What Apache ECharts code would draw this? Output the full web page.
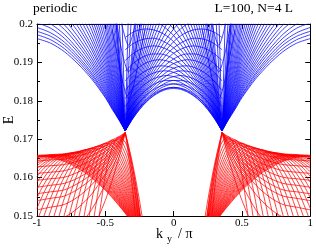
<!DOCTYPE html>
<html>
<head>
<meta charset="utf-8">
<script src="https://cdn.jsdelivr.net/npm/echarts@6/dist/echarts.min.js"></script>
<style>
html,body{margin:0;padding:0;background:#fff;}
#chart{width:316px;height:250px;}
</style>
</head>
<body>
<div id="chart"></div>
<script>
// ---------------- data ----------------
const xTicks = [-1, -0.5, 0, 0.5, 1];
const yTicks = [0.15, 0.16, 0.17, 0.18, 0.19, 0.2];

// upper band (blue), outer part: from k=-1 to the left touching point
const kBlueOuter = [-1, -0.9, -0.8, -0.7, -0.6, -0.5, -0.45, -0.4, -0.354];
const kBlueOuterMirror = [1, 0.9, 0.8, 0.7, 0.6, 0.5, 0.45, 0.4, 0.354];
const blueOuterEnvelope = [0.1962, 0.1950, 0.1928, 0.1896, 0.1857, 0.1808, 0.1778, 0.1750, 0.1722];
const blueOuterFan = [
  [0.1972, 0.1959, 0.1936, 0.1903, 0.1862, 0.1811, 0.1780, 0.1751, 0.1722],
  [0.1981, 0.1968, 0.1945, 0.1910, 0.1868, 0.1815, 0.1783, 0.1752, 0.1722],
  [0.1991, 0.1977, 0.1953, 0.1917, 0.1873, 0.1818, 0.1785, 0.1753, 0.1722],
  [0.2003, 0.1989, 0.1963, 0.1926, 0.1880, 0.1823, 0.1788, 0.1755, 0.1722],
  [0.2015, 0.2000, 0.1973, 0.1934, 0.1887, 0.1827, 0.1790, 0.1756, 0.1722],
  [0.2029, 0.2014, 0.1986, 0.1945, 0.1895, 0.1832, 0.1794, 0.1758, 0.1722],
  [null, 0.2028, 0.1998, 0.1955, 0.1903, 0.1837, 0.1797, 0.1760, 0.1722],
  [null, null, 0.2013, 0.1967, 0.1912, 0.1843, 0.1801, 0.1762, 0.1722],
  [null, null, 0.2027, 0.1980, 0.1922, 0.1849, 0.1805, 0.1763, 0.1722],
  [null, null, 0.2043, 0.1993, 0.1933, 0.1856, 0.1809, 0.1766, 0.1722],
  [null, null, null, 0.2007, 0.1943, 0.1863, 0.1814, 0.1768, 0.1722],
  [null, null, null, 0.2023, 0.1956, 0.1871, 0.1819, 0.1770, 0.1722],
  [null, null, null, 0.2040, 0.1969, 0.1879, 0.1825, 0.1773, 0.1722],
  [null, null, null, 0.2060, 0.1984, 0.1889, 0.1831, 0.1776, 0.1722],
  [null, null, null, 0.2080, 0.2000, 0.1899, 0.1837, 0.1780, 0.1722],
  [null, null, null, null, 0.2018, 0.1910, 0.1845, 0.1783, 0.1722],
  [null, null, null, null, 0.2037, 0.1922, 0.1853, 0.1787, 0.1722],
  [null, null, null, null, 0.2057, 0.1935, 0.1861, 0.1791, 0.1722],
  [null, null, null, null, 0.2080, 0.1950, 0.1870, 0.1796, 0.1722],
  [null, null, null, null, 0.2107, 0.1967, 0.1882, 0.1802, 0.1722],
  [null, null, null, null, 0.2136, 0.1986, 0.1894, 0.1808, 0.1722],
  [null, null, null, null, null, 0.2008, 0.1908, 0.1815, 0.1722],
  [null, null, null, null, null, 0.2032, 0.1924, 0.1823, 0.1722],
  [null, null, null, null, null, 0.2062, 0.1943, 0.1833, 0.1722],
  [null, null, null, null, null, 0.2096, 0.1966, 0.1844, 0.1722],
  [null, null, null, null, null, 0.2135, 0.1991, 0.1856, 0.1722],
  [null, null, null, null, null, null, 0.2024, 0.1873, 0.1722],
  [null, null, null, null, null, null, 0.2064, 0.1893, 0.1722],
  [null, null, null, null, null, null, 0.2114, 0.1918, 0.1722],
  [null, null, null, null, null, null, 0.2170, 0.1946, 0.1722]
];

// upper band (blue), inner part: between the two touching points
const kBlueInner = [-0.354, -0.3, -0.25, -0.2, -0.15, -0.1, -0.05, 0, 0.05, 0.1, 0.15, 0.2, 0.25, 0.3, 0.354];
const kBlueInnerMirror = [0.354, 0.3, 0.25, 0.2, 0.15, 0.1, 0.05, 0, -0.05, -0.1, -0.15, -0.2, -0.25, -0.3, -0.354];
const blueInnerEnvelope = [0.1722, 0.1753, 0.1777, 0.1797, 0.1812, 0.1823, 0.1830, 0.1832, 0.1830, 0.1823, 0.1812, 0.1797, 0.1777, 0.1753, 0.1722];
const blueInnerFan = [
  [0.1722, 0.1753, 0.1778, 0.1798, 0.1814, 0.1825, 0.1832, 0.1835, 0.1833, 0.1827, 0.1817, 0.1802, 0.1782, 0.1759, 0.1728],
  [0.1722, 0.1755, 0.1781, 0.1802, 0.1819, 0.1832, 0.1840, 0.1844, 0.1843, 0.1838, 0.1829, 0.1815, 0.1797, 0.1775, 0.1746],
  [0.1722, 0.1756, 0.1783, 0.1806, 0.1824, 0.1838, 0.1848, 0.1853, 0.1853, 0.1850, 0.1842, 0.1829, 0.1812, 0.1791, 0.1763],
  [0.1722, 0.1758, 0.1786, 0.1811, 0.1830, 0.1846, 0.1857, 0.1863, 0.1866, 0.1863, 0.1857, 0.1846, 0.1831, 0.1811, 0.1785],
  [0.1722, 0.1759, 0.1790, 0.1815, 0.1837, 0.1853, 0.1866, 0.1874, 0.1878, 0.1877, 0.1872, 0.1863, 0.1849, 0.1831, 0.1806],
  [0.1722, 0.1761, 0.1793, 0.1820, 0.1843, 0.1861, 0.1875, 0.1885, 0.1890, 0.1891, 0.1887, 0.1879, 0.1867, 0.1850, 0.1827],
  [0.1722, 0.1763, 0.1796, 0.1825, 0.1850, 0.1870, 0.1886, 0.1897, 0.1904, 0.1907, 0.1905, 0.1899, 0.1888, 0.1873, 0.1852],
  [0.1722, 0.1765, 0.1800, 0.1831, 0.1857, 0.1879, 0.1896, 0.1909, 0.1918, 0.1922, 0.1922, 0.1918, 0.1909, 0.1896, 0.1877],
  [0.1722, 0.1767, 0.1804, 0.1837, 0.1865, 0.1889, 0.1908, 0.1924, 0.1934, 0.1941, 0.1943, 0.1940, 0.1933, 0.1922, 0.1905],
  [0.1722, 0.1769, 0.1808, 0.1843, 0.1873, 0.1899, 0.1921, 0.1938, 0.1950, 0.1959, 0.1963, 0.1962, 0.1957, 0.1948, 0.1933],
  [0.1722, 0.1772, 0.1813, 0.1850, 0.1882, 0.1911, 0.1934, 0.1954, 0.1969, 0.1979, 0.1985, 0.1987, 0.1985, 0.1978, 0.1965],
  [0.1722, 0.1774, 0.1818, 0.1857, 0.1892, 0.1922, 0.1948, 0.1970, 0.1987, 0.2000, 0.2008, 0.2012, 0.2012, 0.2007, 0.1997],
  [0.1722, 0.1777, 0.1823, 0.1864, 0.1902, 0.1935, 0.1963, 0.1987, 0.2007],
  [0.1722, 0.1780, 0.1829, 0.1874, 0.1914, 0.1950, 0.1981, 0.2008],
  [0.1722, 0.1783, 0.1835, 0.1883, 0.1926, 0.1965, 0.2000, 0.2030],
  [0.1722, 0.1787, 0.1843, 0.1894, 0.1941, 0.1983, 0.2021],
  [0.1722, 0.1791, 0.1851, 0.1906, 0.1957, 0.2003],
  [0.1722, 0.1796, 0.1860, 0.1920, 0.1975, 0.2026],
  [0.1722, 0.1801, 0.1871, 0.1935, 0.1996, 0.2051],
  [0.1722, 0.1808, 0.1883, 0.1954, 0.2020],
  [0.1722, 0.1816, 0.1898, 0.1975, 0.2049],
  [0.1722, 0.1825, 0.1915, 0.2001],
  [0.1722, 0.1836, 0.1936, 0.2032],
  [0.1722, 0.1849, 0.1962, 0.2071],
  [0.1722, 0.1865, 0.1993, 0.2117],
  [0.1722, 0.1887, 0.2035],
  [0.1722, 0.1914, 0.2087],
  [0.1722, 0.1946, 0.2149]
];

// upper band (blue), nearly vertical curves leaving the touching point
const kBlueSteep = [-0.354, -0.354, -0.354, -0.354, -0.354];
const kBlueSteepTop = [-0.425, -0.40, -0.378, -0.332, -0.31];
const kBlueSteepMirror = [0.354, 0.354, 0.354, 0.354, 0.354];
const kBlueSteepTopMirror = [0.425, 0.40, 0.378, 0.332, 0.31];
const blueSteepFrom = 0.1722;
const blueSteepTo = 0.2015;

// upper band (blue), curves with a local minimum just above the touching point
const kBlueDip = [-0.45, -0.41, -0.37, -0.33, -0.29, -0.25, -0.21];
const kBlueDipMirror = [0.45, 0.41, 0.37, 0.33, 0.29, 0.25, 0.21];
const blueDips = [
  [0.1985, 0.1915, 0.1845, 0.1805, 0.1845, 0.1915, 0.1985],
  [0.2055, 0.1985, 0.1915, 0.1875, 0.1915, 0.1985, 0.2055],
  [null, 0.2055, 0.1985, 0.1945, 0.1985, 0.2055, null]
];

// lower band (red), upper edge and curves meeting at the touching point
const kRedOuter = [-1, -0.9, -0.8, -0.7, -0.6, -0.5, -0.45, -0.4, -0.354];
const kRedOuterMirror = [1, 0.9, 0.8, 0.7, 0.6, 0.5, 0.45, 0.4, 0.354];
const redEnvelope = [0.1658, 0.1660, 0.1662, 0.1668, 0.1677, 0.1690, 0.1698, 0.1707, 0.1717];
const redEnvelopeFan = [
  [0.1643, 0.1646, 0.1648, 0.1656, 0.1667, 0.1683, 0.1693, 0.1704, 0.1717],
  [0.1628, 0.1631, 0.1634, 0.1643, 0.1657, 0.1676, 0.1688, 0.1702, 0.1717],
  [0.1611, 0.1614, 0.1618, 0.1629, 0.1645, 0.1668, 0.1683, 0.1699, 0.1717],
  [0.1593, 0.1597, 0.1601, 0.1614, 0.1633, 0.1660, 0.1677, 0.1696, 0.1717],
  [0.1575, 0.1580, 0.1585, 0.1599, 0.1621, 0.1652, 0.1671, 0.1693, 0.1717],
  [0.1558, 0.1563, 0.1568, 0.1585, 0.1609, 0.1644, 0.1666, 0.1690, 0.1717],
  [0.1540, 0.1546, 0.1552, 0.1570, 0.1597, 0.1636, 0.1660, 0.1687, 0.1717],
  [0.1516, 0.1523, 0.1530, 0.1550, 0.1581, 0.1625, 0.1652, 0.1683, 0.1717],
  [0.1481, 0.1489, 0.1497, 0.1521, 0.1557, 0.1609, 0.1641, 0.1677, 0.1717],
  [0.1422, 0.1432, 0.1442, 0.1472, 0.1517, 0.1582, 0.1622, 0.1667, 0.1717],
  [0.1333, 0.1346, 0.1359, 0.1398, 0.1457, 0.1541, 0.1593, 0.1652, 0.1717]
];

// lower band (red), steep edge below the touching point
const kRedEdge = [-0.354, -0.32, -0.29, -0.26, -0.231, -0.22];
const kRedEdgeMirror = [0.354, 0.32, 0.29, 0.26, 0.231, 0.22];
const redEdge = [0.1717, 0.1668, 0.1618, 0.1561, 0.1500, 0.1475];
const redEdgeFan = [
  [0.1717, 0.1662, 0.1603, 0.1537, 0.1463, null],
  [0.1717, 0.1652, 0.1581, 0.1500, 0.1409, null],
  [0.1717, 0.1632, 0.1536, 0.1421, null, null]
];

// lower band (red), arched curves filling the band
const kRedArch = [-1, -0.95, -0.9, -0.85, -0.8, -0.75, -0.7, -0.65, -0.6, -0.55, -0.5, -0.45, -0.4, -0.354, -0.32, -0.29, -0.26, -0.231];
const kRedArchMirror = [1, 0.95, 0.9, 0.85, 0.8, 0.75, 0.7, 0.65, 0.6, 0.55, 0.5, 0.45, 0.4, 0.354, 0.32, 0.29, 0.26, 0.231];
const redArches = [
  [null, null, null, null, null, null, null, null, null, 0.1486, 0.1605, 0.1678, 0.1706, 0.1692, 0.1657, 0.1608, 0.1544, 0.1466],
  [null, null, null, null, null, null, null, null, 0.1454, 0.1569, 0.1649, 0.1693, 0.1701, 0.1676, 0.1639, 0.1592, 0.1532, 0.1462],
  [null, null, null, null, null, null, null, 0.1426, 0.1538, 0.1620, 0.1674, 0.1698, 0.1692, 0.1662, 0.1623, 0.1578, 0.1522, 0.1458],
  [null, null, null, null, null, null, 0.1404, 0.1510, 0.1592, 0.1651, 0.1685, 0.1695, 0.1681, 0.1647, 0.1609, 0.1566, 0.1514, 0.1456],
  [null, null, null, null, null, null, 0.1486, 0.1567, 0.1628, 0.1669, 0.1689, 0.1690, 0.1670, 0.1634, 0.1596, 0.1555, 0.1507, 0.1453],
  [null, null, null, null, null, 0.1464, 0.1543, 0.1606, 0.1650, 0.1678, 0.1689, 0.1682, 0.1659, 0.1622, 0.1585, 0.1546, 0.1501, 0.1452],
  [null, null, null, null, 0.1445, 0.1522, 0.1584, 0.1632, 0.1664, 0.1682, 0.1685, 0.1674, 0.1648, 0.1611, 0.1575, 0.1538, 0.1496, 0.1450],
  [null, null, null, 0.1429, 0.1503, 0.1564, 0.1613, 0.1649, 0.1672, 0.1682, 0.1680, 0.1665, 0.1637, 0.1601, 0.1567, 0.1532, 0.1492, null],
  [null, null, null, 0.1486, 0.1546, 0.1595, 0.1634, 0.1661, 0.1676, 0.1681, 0.1675, 0.1657, 0.1628, 0.1592, 0.1559, 0.1526, 0.1488, null],
  [null, null, 0.1470, 0.1529, 0.1578, 0.1617, 0.1647, 0.1667, 0.1677, 0.1677, 0.1667, 0.1648, 0.1619, 0.1583, 0.1552, 0.1520, 0.1485, null],
  [null, 0.1456, 0.1514, 0.1562, 0.1602, 0.1634, 0.1657, 0.1671, 0.1676, 0.1673, 0.1661, 0.1640, 0.1611, 0.1576, 0.1546, 0.1516, 0.1482, null],
  [0.1443, 0.1499, 0.1547, 0.1588, 0.1620, 0.1645, 0.1663, 0.1672, 0.1674, 0.1668, 0.1654, 0.1632, 0.1603, 0.1569, 0.1540, 0.1512, 0.1480, null],
  [0.1486, 0.1533, 0.1574, 0.1607, 0.1634, 0.1653, 0.1666, 0.1672, 0.1670, 0.1662, 0.1647, 0.1625, 0.1596, 0.1563, 0.1535, 0.1508, 0.1478, null],
  [0.1520, 0.1561, 0.1594, 0.1622, 0.1643, 0.1659, 0.1667, 0.1670, 0.1666, 0.1657, 0.1640, 0.1618, 0.1589, 0.1558, 0.1531, 0.1504, 0.1476, null],
  [0.1548, 0.1582, 0.1610, 0.1633, 0.1650, 0.1662, 0.1667, 0.1667, 0.1662, 0.1651, 0.1634, 0.1611, 0.1583, 0.1552, 0.1526, 0.1501, 0.1474, null],
  [0.1570, 0.1599, 0.1623, 0.1641, 0.1655, 0.1663, 0.1666, 0.1664, 0.1657, 0.1645, 0.1627, 0.1605, 0.1577, 0.1547, 0.1523, 0.1499, 0.1473, null],
  [0.1588, 0.1613, 0.1633, 0.1648, 0.1658, 0.1664, 0.1665, 0.1661, 0.1653, 0.1640, 0.1622, 0.1599, 0.1572, 0.1543, 0.1519, 0.1496, 0.1471, null],
  [0.1603, 0.1624, 0.1640, 0.1652, 0.1660, 0.1664, 0.1663, 0.1658, 0.1648, 0.1635, 0.1617, 0.1594, 0.1568, 0.1539, 0.1516, 0.1494, null, null],
  [0.1615, 0.1632, 0.1646, 0.1656, 0.1661, 0.1663, 0.1661, 0.1654, 0.1644, 0.1630, 0.1612, 0.1589, 0.1563, 0.1536, 0.1513, 0.1492, 0.1469, null],
  [0.1624, 0.1638, 0.1649, 0.1657, 0.1661, 0.1661, 0.1657, 0.1650, 0.1639, 0.1624, 0.1606, 0.1584, 0.1559, 0.1532, 0.1510, 0.1490, null, null],
  [0.1631, 0.1644, 0.1652, 0.1658, 0.1660, 0.1659, 0.1654, 0.1646, 0.1635, 0.1620, 0.1601, 0.1580, 0.1555, 0.1529, 0.1508, 0.1488, null, null],
  [0.1637, 0.1647, 0.1654, 0.1658, 0.1659, 0.1656, 0.1651, 0.1642, 0.1630, 0.1615, 0.1597, 0.1576, 0.1551, 0.1526, 0.1506, 0.1486, null, null],
  [0.1643, 0.1651, 0.1656, 0.1659, 0.1658, 0.1655, 0.1648, 0.1639, 0.1627, 0.1612, 0.1593, 0.1572, 0.1548, 0.1523, 0.1503, 0.1485, null, null],
  [0.1647, 0.1654, 0.1658, 0.1659, 0.1657, 0.1653, 0.1646, 0.1636, 0.1623, 0.1608, 0.1590, 0.1569, 0.1545, 0.1521, 0.1501, 0.1483, null, null],
  [0.1651, 0.1656, 0.1659, 0.1659, 0.1656, 0.1651, 0.1643, 0.1633, 0.1620, 0.1604, 0.1586, 0.1566, 0.1542, 0.1518, 0.1499, 0.1482, null, null],
  [0.1653, 0.1656, 0.1658, 0.1657, 0.1654, 0.1648, 0.1640, 0.1629, 0.1616, 0.1600, 0.1582, 0.1562, 0.1539, 0.1516, 0.1498, null, null, null],
  [0.1655, 0.1657, 0.1658, 0.1656, 0.1652, 0.1646, 0.1637, 0.1626, 0.1613, 0.1597, 0.1579, 0.1559, 0.1537, 0.1514, 0.1496, 0.1479, null, null],
  [0.1655, 0.1657, 0.1656, 0.1654, 0.1649, 0.1642, 0.1633, 0.1622, 0.1609, 0.1593, 0.1576, 0.1556, 0.1534, 0.1512, 0.1495, null, null, null],
  [0.1656, 0.1657, 0.1656, 0.1653, 0.1647, 0.1640, 0.1631, 0.1619, 0.1606, 0.1590, 0.1573, 0.1553, 0.1532, 0.1510, 0.1493, null, null, null],
  [0.1656, 0.1656, 0.1654, 0.1650, 0.1644, 0.1637, 0.1627, 0.1616, 0.1602, 0.1587, 0.1570, 0.1550, 0.1529, 0.1508, 0.1491, null, null, null],
  [0.1656, 0.1655, 0.1653, 0.1648, 0.1642, 0.1634, 0.1624, 0.1613, 0.1599, 0.1584, 0.1567, 0.1548, 0.1527, 0.1507, 0.1490, null, null, null]
];

// ---------------- chart ----------------
const BLUE = '#0000ff';
const RED = '#ff0000';
const FONT = '"Liberation Serif", "Times New Roman", serif';
const LINE_W = 0.75;
const series = [];

function pushLine(data, color, smooth) {
  series.push({
    type: 'line', data: data, xAxisIndex: 0, yAxisIndex: 0,
    showSymbol: false, symbol: 'none', smooth: smooth,
    silent: true, animation: false, clip: true,
    lineStyle: { color: color, width: LINE_W }
  });
}
function addCurve(xs, ys, color) {
  const data = [];
  for (let i = 0; i < ys.length; i++) {
    if (ys[i] !== null && ys[i] !== undefined) data.push([xs[i], ys[i]]);
  }
  pushLine(data, color, 0.3);
}
function addBoth(xs, xsMirror, rows, color) {
  rows.forEach(function (ys) { addCurve(xs, ys, color); addCurve(xsMirror, ys, color); });
}
function addSegments(from, to, yFrom, yTo, color) {
  for (let i = 0; i < from.length; i++) pushLine([[from[i], yFrom], [to[i], yTo]], color, false);
}

// red band
addBoth(kRedOuter, kRedOuterMirror, [redEnvelope], RED);
addBoth(kRedOuter, kRedOuterMirror, redEnvelopeFan, RED);
addBoth(kRedEdge, kRedEdgeMirror, [redEdge], RED);
addBoth(kRedEdge, kRedEdgeMirror, redEdgeFan, RED);
addBoth(kRedArch, kRedArchMirror, redArches, RED);
// blue band
addBoth(kBlueOuter, kBlueOuterMirror, [blueOuterEnvelope], BLUE);
addBoth(kBlueOuter, kBlueOuterMirror, blueOuterFan, BLUE);
addCurve(kBlueInner, blueInnerEnvelope, BLUE);
addBoth(kBlueInner, kBlueInnerMirror, blueInnerFan, BLUE);
addBoth(kBlueDip, kBlueDipMirror, blueDips, BLUE);
addSegments(kBlueSteep, kBlueSteepTop, blueSteepFrom, blueSteepTo, BLUE);
addSegments(kBlueSteepMirror, kBlueSteepTopMirror, blueSteepFrom, blueSteepTo, BLUE);

const axisCommon = {
  type: 'value',
  axisLine: { show: true, onZero: false, lineStyle: { color: '#000', width: 1 } },
  axisTick: { show: true, inside: true, length: 5, lineStyle: { color: '#000', width: 1 } },
  minorTick: { show: true, splitNumber: 2, length: 3, lineStyle: { color: '#000', width: 1 } },
  splitLine: { show: false },
  minorSplitLine: { show: false }
};

const chart = echarts.init(document.getElementById('chart'), null, { renderer: 'canvas' });
chart.setOption({
  animation: false,
  backgroundColor: '#fff',
  grid: { left: 37, right: 3, top: 24, bottom: 34 },
  xAxis: [
    Object.assign({}, axisCommon, {
      position: 'bottom', min: xTicks[0], max: xTicks[xTicks.length - 1], interval: 0.5,
      axisLabel: { show: true, margin: 2, fontFamily: FONT, fontSize: 11, color: '#000' }
    }),
    Object.assign({}, axisCommon, {
      position: 'top', min: xTicks[0], max: xTicks[xTicks.length - 1], interval: 0.5,
      axisLabel: { show: false }
    })
  ],
  yAxis: [
    Object.assign({}, axisCommon, {
      position: 'left', min: yTicks[0], max: yTicks[yTicks.length - 1], interval: 0.01,
      axisLabel: { show: true, margin: 4, fontFamily: FONT, fontSize: 11, color: '#000' }
    }),
    Object.assign({}, axisCommon, {
      position: 'right', min: yTicks[0], max: yTicks[yTicks.length - 1], interval: 0.01,
      axisLabel: { show: false }
    })
  ],
  series: series,
  graphic: [
    { type: 'text', x: 33, y: 8, style: { text: 'periodic', fontFamily: FONT, fontSize: 13.5, fill: '#000', textVerticalAlign: 'middle' } },
    { type: 'text', x: 293, y: 8, style: { text: 'L=100, N=4 L', fontFamily: FONT, fontSize: 13.5, fill: '#000', textAlign: 'right', textVerticalAlign: 'middle' } },
    { type: 'text', x: 9, y: 120, rotation: Math.PI / 2, style: { text: 'E', fontFamily: FONT, fontSize: 14, fill: '#000', textAlign: 'center', textVerticalAlign: 'middle' } },
    { type: 'text', x: 156, y: 234.5, style: { text: 'k', fontFamily: FONT, fontSize: 14, fill: '#000', textVerticalAlign: 'middle' } },
    { type: 'text', x: 167, y: 239.5, style: { text: 'y', fontFamily: FONT, fontSize: 10, fill: '#000', textVerticalAlign: 'middle' } },
    { type: 'text', x: 178, y: 234.5, style: { text: '/ \u03C0', fontFamily: FONT, fontSize: 14, fill: '#000', textVerticalAlign: 'middle' } }
  ]
});
</script>
</body>
</html>
